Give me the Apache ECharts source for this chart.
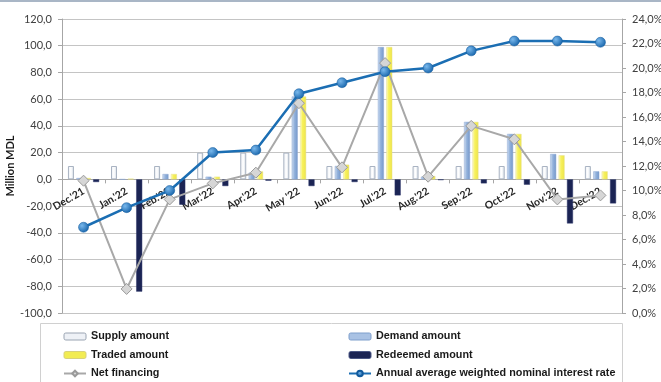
<!DOCTYPE html>
<html>
<head>
<meta charset="utf-8">
<script src="https://cdn.jsdelivr.net/npm/echarts@6/dist/echarts.min.js"></script>
<style>
  html, body { margin: 0; padding: 0; background: #ffffff; }
  #chart { width: 661px; height: 382px; }
</style>
</head>
<body>
<div id="chart"></div>
<script>
// Monthly auction results, million MDL, and the average interest rate (%)
const categories = ["Dec.'21", "Jan.'22", "Feb.'22", "Mar.'22", "Apr.'22", "May '22", "Jun.'22",
                    "Jul.'22", "Aug.'22", "Sep.'22", "Oct.'22", "Nov.'22", "Dec.'22"];
const supplyAmount   = [10, 10, 10, 20, 20, 20, 10, 10, 10, 10, 10, 10, 10];
const demandAmount   = [1, 0, 4, 2, 5, 62, 10, 99, 2, 43, 34, 19, 6];
const tradedAmount   = [1, 0.5, 4, 2, 6, 62, 11, 99, 2.5, 43, 34, 18, 6];
const redeemedAmount = [-2, -84, -19, -5, -1, -5, -2, -12, -0.5, -3, -4, -33, -18];
const netFinancing   = [-1, -82, -15, -3, 5, 57, 9, 87, 2, 40, 30, -15, -12];
const interestRate   = [7.0, 8.6, 10.0, 13.1, 13.3, 17.9, 18.8, 19.7, 20.0, 21.4, 22.2, 22.2, 22.1];

const leftTicks = { min: -100, max: 120, interval: 20 };
const rightTicks = { min: 0, max: 24, interval: 2 };

const gridBox = { left: 62, right: 39, top: 19, bottom: 69 };
const chartHeight = 382;
const plotHeight = chartHeight - gridBox.top - gridBox.bottom;
// Category axis sits on the zero line of the left axis
const zeroShift = -plotHeight * (0 - leftTicks.min) / (leftTicks.max - leftTicks.min);

const chart = echarts.init(document.getElementById('chart'), null, { renderer: 'canvas' });
const G = echarts.graphic;

const axisFont = { fontFamily: 'Lato', fontSize: 11, color: '#404040' };
const legendText = { fontFamily: 'Liberation Sans', fontWeight: 'bold', fontSize: 10.8, color: '#1a1a1a', lineHeight: 13 };

const supplyFill = new G.LinearGradient(0, 0, 1, 0, [
  { offset: 0, color: '#e9edf3' }, { offset: 0.5, color: '#ffffff' }, { offset: 1, color: '#d0d8e3' }]);
const demandFill = new G.LinearGradient(0, 0, 1, 0, [
  { offset: 0, color: '#d3e0f1' }, { offset: 0.45, color: '#93b2dc' }, { offset: 1, color: '#7497c9' }]);
const tradedFill = new G.LinearGradient(0, 0, 1, 0, [
  { offset: 0, color: '#fbfad0' }, { offset: 0.4, color: '#f7f15c' }, { offset: 1, color: '#ede44a' }]);
const rateMarker = new G.RadialGradient(0.35, 0.35, 0.75, [
  { offset: 0, color: '#79b8ec' }, { offset: 1, color: '#0f5ea6' }]);

const barCommon = { type: 'bar', yAxisIndex: 0, barWidth: 6, barGap: '40%' };

const legendCommon = {
  orient: 'vertical', top: 330, padding: 0, height: 60, itemGap: 5.5, itemWidth: 22, itemHeight: 7,
  textStyle: legendText
};

const option = {
  animation: false,
  backgroundColor: '#ffffff',
  grid: Object.assign({ containLabel: false, outerBoundsMode: 'none' }, gridBox),
  graphic: [
    { type: 'rect', shape: { x: 0, y: 0, width: 661, height: 2 }, style: { fill: '#a9b6c6' }, silent: true },
    { type: 'rect', shape: { x: 40.5, y: 323.5, width: 582, height: 70 },
      style: { fill: 'none', stroke: '#d0d0d0', lineWidth: 1 }, silent: true, z: -1 }
  ],
  legend: [
    Object.assign({
      left: 63,
      data: [
        { name: 'Supply amount', itemStyle: { color: '#eef1f6', borderColor: '#9aa4b2', borderWidth: 1 } },
        { name: 'Traded amount', itemStyle: { color: '#f2ec52', borderColor: '#d8d27a', borderWidth: 1 } },
        { name: 'Net financing' }
      ]
    }, legendCommon),
    Object.assign({
      left: 348,
      data: [
        { name: 'Demand amount', itemStyle: { color: '#a9c2e4', borderColor: '#7f9fcc', borderWidth: 1 } },
        { name: 'Redeemed amount', itemStyle: { color: '#1b2454', borderColor: '#4a5684', borderWidth: 1 } },
        { name: 'Annual average weighted nominal interest rate' }
      ]
    }, legendCommon)
  ],
  xAxis: {
    type: 'category',
    data: categories,
    position: 'bottom',
    offset: zeroShift,
    axisLine: { show: true, onZero: false, lineStyle: { color: '#a6a6a6', width: 1 } },
    axisTick: { show: true, length: 4, lineStyle: { color: '#a6a6a6' } },
    axisLabel: {
      interval: 0, rotate: 30, margin: 11,
      fontFamily: 'Lato', fontWeight: 'bold', fontSize: 10.5, color: '#262626'
    },
    splitLine: { show: false }
  },
  yAxis: [
    {
      type: 'value', position: 'left',
      min: leftTicks.min, max: leftTicks.max, interval: leftTicks.interval,
      name: 'Million MDL', nameLocation: 'middle', nameRotate: 90, nameGap: 46, nameMoveOverlap: false,
      nameTextStyle: { fontFamily: 'Lato', fontWeight: 'bold', fontSize: 11, color: '#1a1a1a' },
      axisLine: { show: true, lineStyle: { color: '#a6a6a6' } },
      axisTick: { show: true, length: 4, lineStyle: { color: '#a6a6a6' } },
      axisLabel: Object.assign({ margin: 10, formatter: v => v.toFixed(1).replace('.', ',') }, axisFont),
      splitLine: { show: true, lineStyle: { color: '#c4c4c4', width: 1 } }
    },
    {
      type: 'value', position: 'right',
      min: rightTicks.min, max: rightTicks.max, interval: rightTicks.interval,
      axisLine: { show: true, lineStyle: { color: '#a6a6a6' } },
      axisTick: { show: true, length: 4, lineStyle: { color: '#a6a6a6' } },
      axisLabel: Object.assign({ margin: 10, formatter: v => v.toFixed(1).replace('.', ',') + '%' }, axisFont),
      splitLine: { show: false }
    }
  ],
  series: [
    Object.assign({ name: 'Supply amount', data: supplyAmount,
      itemStyle: { color: supplyFill, borderColor: '#a9b3c2', borderWidth: 1 } }, barCommon),
    Object.assign({ name: 'Demand amount', data: demandAmount,
      itemStyle: { color: demandFill, borderColor: '#8aa7d2', borderWidth: 0.5 } }, barCommon),
    Object.assign({ name: 'Traded amount', data: tradedAmount,
      itemStyle: { color: tradedFill, borderColor: '#e6e08a', borderWidth: 0.5 } }, barCommon),
    Object.assign({ name: 'Redeemed amount', data: redeemedAmount,
      itemStyle: { color: '#1b2454', borderColor: '#2c376a', borderWidth: 0.5 } }, barCommon),
    {
      name: 'Net financing', type: 'line', yAxisIndex: 0, data: netFinancing,
      symbol: 'diamond', symbolSize: 11, showSymbol: true,
      lineStyle: { color: '#a8a8a8', width: 2 },
      itemStyle: { color: '#d6d6d6', borderColor: '#9a9a9a', borderWidth: 1 },
      z: 3
    },
    {
      name: 'Annual average weighted nominal interest rate', type: 'line', yAxisIndex: 1, data: interestRate,
      symbol: 'circle', symbolSize: 10, showSymbol: true,
      lineStyle: { color: '#1b6eb3', width: 2.5 },
      itemStyle: { color: rateMarker, borderColor: '#125a9c', borderWidth: 0.5 },
      z: 4
    }
  ]
};

chart.setOption(option);
</script>
</body>
</html>
